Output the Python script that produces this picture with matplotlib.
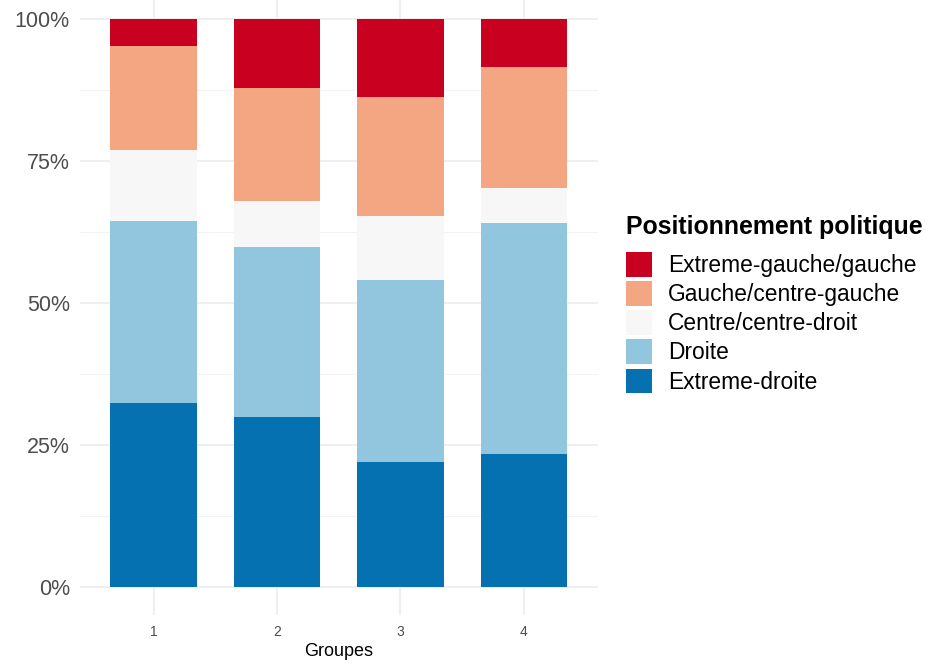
import numpy as np
import matplotlib.pyplot as plt
from matplotlib.patches import Patch
from matplotlib.ticker import MultipleLocator, FuncFormatter

plt.rcParams['font.family'] = ['Liberation Sans', 'DejaVu Sans']

# Data (shares per group)
groupes = [1, 2, 3, 4]
categories = ['Extreme-droite', 'Droite', 'Centre/centre-droit',
              'Gauche/centre-gauche', 'Extreme-gauche/gauche']
extreme_droite = [32.4, 29.9, 22.0, 23.3]
droite = [32.1, 29.9, 32.1, 40.8]
centre = [12.4, 8.1, 11.2, 6.1]
gauche = [18.4, 20.0, 21.1, 21.4]
extreme_gauche = [4.7, 12.1, 13.6, 8.4]
colors = ['#0571B0', '#92C5DE', '#F7F7F7', '#F4A582', '#CA0020']

series = [extreme_droite, droite, centre, gauche, extreme_gauche]

fig = plt.figure(figsize=(9.33, 6.71), dpi=100)
# panel runs a little past the top edge of the figure (as in the original crop)
ax = fig.add_axes([79.5 / 933, 1 - 615 / 671, 518.5 / 933, 624 / 671])

bottom = np.zeros(len(groupes))
for vals, col in zip(series, colors):
    v = np.array(vals) / 100
    ax.bar(groupes, v, width=0.7, bottom=bottom, color=col, linewidth=0, zorder=3)
    bottom += v

ax.set_xlim(0.4, 4.6)
ax.set_ylim(-0.05, 1.05)
ax.set_xticks(groupes)
ax.yaxis.set_major_locator(MultipleLocator(0.25))
ax.yaxis.set_minor_locator(MultipleLocator(0.125))
ax.yaxis.set_major_formatter(FuncFormatter(lambda y, _: f'{y * 100:.0f}%'))

ax.grid(True, which='major', color='#EBEBEB', linewidth=1.1, zorder=0)
ax.grid(True, which='minor', axis='y', color='#F3F3F3', linewidth=0.8, zorder=0)
for s in ax.spines.values():
    s.set_visible(False)
ax.tick_params(axis='both', which='both', length=0)
ax.tick_params(axis='y', labelsize=15.5, labelcolor='#4D4D4D', pad=7)
ax.tick_params(axis='x', labelsize=10, labelcolor='#4D4D4D', pad=7)
ax.set_xlabel('Groupes', fontsize=13, labelpad=3)

fig.text(626 / 933, 1 - 227 / 671, 'Positionnement politique',
         fontsize=17.9, fontweight='bold', va='center', ha='left')

handles = [Patch(facecolor=c, edgecolor='none') for c in colors[::-1]]
leg = fig.legend(handles, categories[::-1],
                 loc='upper left', bbox_to_anchor=(626 / 933, 1 - 252 / 671),
                 frameon=False, fontsize=16.4, borderpad=0, borderaxespad=0,
                 handlelength=1.15, handleheight=1.3, labelspacing=0.18,
                 handletextpad=0.7)

fig.savefig('out.png', dpi=100)
